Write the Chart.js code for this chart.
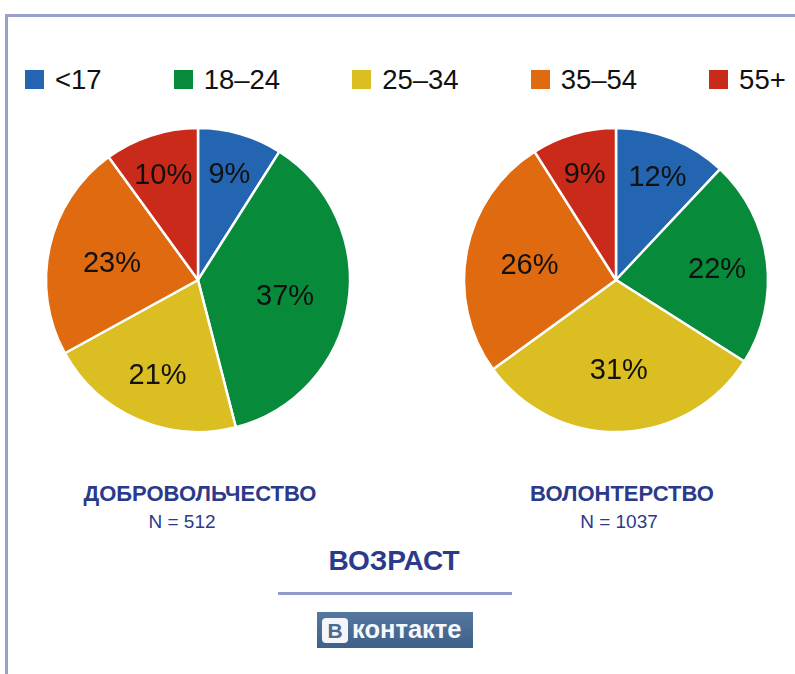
<!DOCTYPE html>
<html>
<head>
<meta charset="utf-8">
<script src="https://cdn.jsdelivr.net/npm/chart.js@4/dist/chart.umd.min.js"></script>
<style>
  html, body { margin: 0; padding: 0; background: #fff; }
  body { width: 795px; height: 674px; position: relative; overflow: hidden; font-family: "Liberation Sans", Arial, Helvetica, sans-serif; }
  .frame-top { position: absolute; left: 5px; top: 14px; width: 790px; height: 3px; background: #9aa0ca; }
  .frame-left { position: absolute; left: 5px; top: 14px; width: 3px; height: 660px; background: #9aa0ca; }
  #legend { position: absolute; left: 25px; top: 68px; display: flex; gap: 72px; align-items: center; height: 24px; }
  #legend .item { display: flex; align-items: center; }
  #legend .box { width: 19px; height: 19px; margin-right: 11px; margin-top: -2px; }
  #legend .lbl { font-size: 27.5px; color: #111; line-height: 24px; }
  .pie { position: absolute; width: 320px; height: 320px; }
  .title { position: absolute; width: 300px; text-align: center; color: #2b3a8a; font-weight: bold; font-size: 22px; line-height: 24px; }
  .nval { position: absolute; width: 300px; text-align: center; color: #2b3a8a; font-size: 19px; line-height: 22px; }
  #age { position: absolute; left: 244px; width: 300px; top: 546px; text-align: center; color: #2b3a8a; font-weight: bold; font-size: 28px; line-height: 30px; }
  #rule { position: absolute; left: 278px; top: 592px; width: 234px; height: 3px; background: #9399c9; }
  #vk { position: absolute; left: 317px; top: 612px; width: 156px; height: 36px; background: linear-gradient(#56779f, #3e6189); }
  #vk .b { position: absolute; left: 5px; top: 6px; width: 26px; height: 25px; background: #f4f6f9; border-radius: 4px; color: #4b6b93; font-weight: bold; font-size: 21px; line-height: 25px; text-align: center; }
  #vk .t { position: absolute; left: 35px; top: 3px; color: #f6f8fb; font-weight: bold; font-size: 25.5px; line-height: 28px; letter-spacing: 0px; }
</style>
</head>
<body>
<div class="frame-top"></div>
<div class="frame-left"></div>
<div id="legend"></div>

<div class="pie" style="left:38px; top:120px;"><canvas id="pieLeft" width="320" height="320"></canvas></div>
<div class="pie" style="left:456px; top:120px;"><canvas id="pieRight" width="320" height="320"></canvas></div>

<div class="title" id="t0" style="left:50px; top:482px;"></div>
<div class="nval" id="n0" style="left:32px; top:511px;"></div>
<div class="title" id="t1" style="left:472px; top:482px;"></div>
<div class="nval" id="n1" style="left:469px; top:511px;"></div>

<div id="age"></div>
<div id="rule"></div>
<div id="vk"><div class="b">В</div><div class="t">контакте</div></div>

<script>
// ---- data ----
const categories = ['<17', '18–24', '25–34', '35–54', '55+'];
const dobrovolchestvoValues = [9, 37, 21, 23, 10];
const volonterstvoValues = [12, 22, 31, 26, 9];
const chartTitles = ['ДОБРОВОЛЬЧЕСТВО', 'ВОЛОНТЕРСТВО'];
const sampleSizes = [512, 1037];
const sectionTitle = 'ВОЗРАСТ';

// ---- styles ----
const palette = ['#2365b0', '#088a3b', '#dbbe22', '#df6a0f', '#c92a19'];

// legend
const legendEl = document.getElementById('legend');
categories.forEach((c, i) => {
  const it = document.createElement('div');
  it.className = 'item';
  const b = document.createElement('div');
  b.className = 'box';
  b.style.background = palette[i];
  const l = document.createElement('div');
  l.className = 'lbl';
  l.textContent = c;
  it.appendChild(b); it.appendChild(l);
  legendEl.appendChild(it);
});

document.getElementById('t0').textContent = chartTitles[0];
document.getElementById('t1').textContent = chartTitles[1];
document.getElementById('n0').textContent = 'N = ' + sampleSizes[0];
document.getElementById('n1').textContent = 'N = ' + sampleSizes[1];
document.getElementById('age').textContent = sectionTitle;

// label distance from centre, as a fraction of the radius: small slices push labels outward
function labelFraction(v) {
  if (v < 15) return 0.74;
  if (v < 23) return 0.67;
  return 0.58;
}

const pctLabels = {
  id: 'pctLabels',
  afterDatasetsDraw(chart) {
    const ctx = chart.ctx;
    const meta = chart.getDatasetMeta(0);
    const data = chart.data.datasets[0].data;
    ctx.save();
    ctx.font = '29px "Liberation Sans", Arial, sans-serif';
    ctx.fillStyle = '#111';
    ctx.textAlign = 'center';
    ctx.textBaseline = 'middle';
    meta.data.forEach((arc, i) => {
      const p = arc.getProps(['x', 'y', 'startAngle', 'endAngle', 'outerRadius'], true);
      const mid = (p.startAngle + p.endAngle) / 2;
      const r = p.outerRadius * labelFraction(data[i]);
      ctx.fillText(data[i] + '%', p.x + Math.cos(mid) * r, p.y + Math.sin(mid) * r + 3);
    });
    ctx.restore();
  }
};

function makePie(id, values) {
  return new Chart(document.getElementById(id), {
    type: 'pie',
    data: {
      labels: categories,
      datasets: [{
        data: values,
        backgroundColor: palette,
        borderColor: '#ffffff',
        borderWidth: 2.5,
        radius: 152
      }]
    },
    options: {
      responsive: false,
      devicePixelRatio: 1,
      animation: false,
      events: [],
      layout: { padding: 0 },
      plugins: { legend: { display: false }, tooltip: { enabled: false } }
    },
    plugins: [pctLabels]
  });
}

makePie('pieLeft', dobrovolchestvoValues);
makePie('pieRight', volonterstvoValues);
</script>
</body>
</html>
